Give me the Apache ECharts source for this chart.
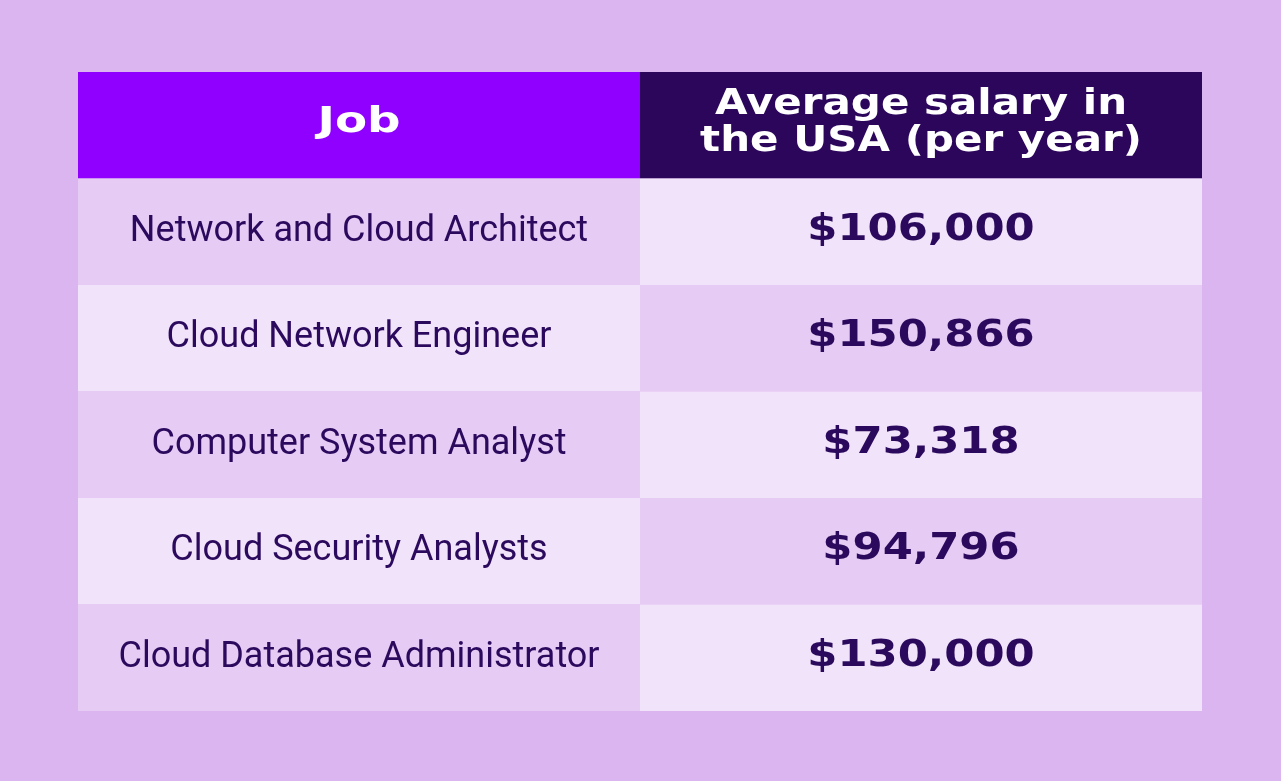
<!DOCTYPE html>
<html>
<head>
<meta charset="utf-8">
<script src="https://cdn.jsdelivr.net/npm/echarts@6/dist/echarts.min.js"></script>
<style>
  html, body { margin: 0; padding: 0; background: #dbb5ef; }
  #chart { width: 1281px; height: 781px; }
</style>
</head>
<body>
<div id="chart"></div>
<script>
// ---- data ----
const headers = ['Job', 'Average salary in\nthe USA (per year)'];
const jobs = [
  'Network and Cloud Architect',
  'Cloud Network Engineer',
  'Computer System Analyst',
  'Cloud Security Analysts',
  'Cloud Database Administrator'
];
const salaries = [106000, 150866, 73318, 94796, 130000];

// ---- build cells ----
const rowKeys = ['header'].concat(jobs.map((_, i) => 'r' + i));
const colKeys = ['job', 'salary'];
const cells = [];
headers.forEach((h, c) => cells.push([c, 0, h]));
jobs.forEach((j, i) => {
  cells.push([0, i + 1, j]);
  cells.push([1, i + 1, '$' + salaries[i].toLocaleString('en-US')]);
});

const DARK = '#e6ccf4', LIGHT = '#f1e3f9', TEXT = '#2b0a5e';

function cellFill(c, r) {
  if (r === 0) return c === 0 ? '#9000ff' : '#2b065b';
  return ((r + c) % 2 === 1) ? DARK : LIGHT;
}

const chart = echarts.init(document.getElementById('chart'));
chart.setOption({
  backgroundColor: '#dbb5ef',
  animation: false,
  grid: { left: 78, right: 79, top: 72, bottom: 70 },
  xAxis: { type: 'category', data: colKeys, show: false },
  yAxis: { type: 'category', data: rowKeys, inverse: true, show: false },
  series: [{
    type: 'custom',
    data: cells,
    encode: { x: 0, y: 1 },
    renderItem: function (params, api) {
      const c = api.value(0), r = api.value(1);
      const item = cells[params.dataIndex];
      const p = api.coord([c, r]);
      const s = api.size([1, 1]);
      let font, fill = TEXT, lineHeight, sx = 1, dy = 0;
      if (r === 0) {
        fill = '#ffffff';
        if (c === 0) {
          font = 'bold 36px "DejaVu Sans"';
          sx = 1.3; dy = -3;
        } else {
          font = 'bold 35px "DejaVu Sans"';
          lineHeight = 37;
          sx = 1.2; dy = -2;
        }
      } else if (c === 0) {
        font = '36px Roboto';
      } else {
        font = 'bold 38px "DejaVu Sans"';
        sx = 1.14; dy = -2;
      }
      return {
        type: 'group',
        children: [{
          type: 'rect',
          shape: { x: p[0] - s[0] / 2, y: p[1] - s[1] / 2, width: s[0], height: s[1] },
          style: { fill: cellFill(c, r) }
        }, {
          type: 'text',
          x: p[0], y: p[1] + dy,
          scaleX: sx,
          style: {
            text: item[2],
            x: 0, y: 0,
            align: 'center', verticalAlign: 'middle',
            font: font, fill: fill, lineHeight: lineHeight
          }
        }]
      };
    }
  }]
});
</script>
</body>
</html>
